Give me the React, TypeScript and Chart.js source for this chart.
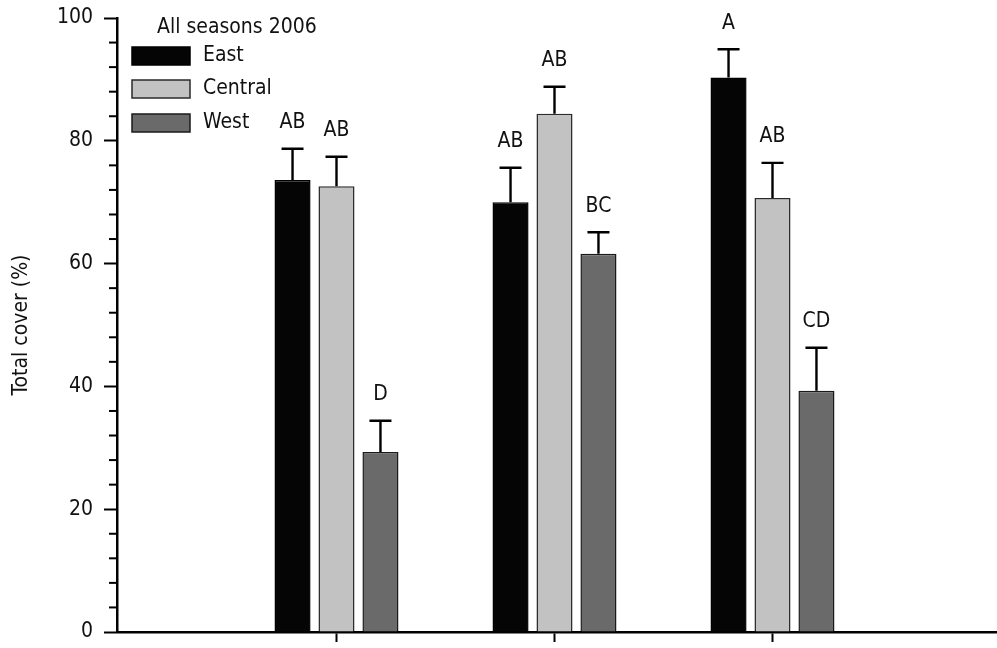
import React, { useEffect, useRef } from "react";
import { Chart, registerables } from "chart.js";

Chart.register(...registerables);

// Data
const categories = ["Site 1", "Site 2", "Site 3"];
const categoryPositions = [1, 2, 3];
const seriesNames = ["East", "Central", "West"];
const eastMeans = [73.6, 70.0, 90.3];
const centralMeans = [72.6, 84.4, 70.7];
const westMeans = [29.3, 61.6, 39.3];
const eastErrTop = [78.7, 75.6, 94.9];
const centralErrTop = [77.4, 88.8, 76.4];
const westErrTop = [34.4, 65.1, 46.3];
const eastLetters = ["AB", "AB", "A"];
const centralLetters = ["AB", "AB", "AB"];
const westLetters = ["D", "BC", "CD"];
const yTicks = [0, 20, 40, 60, 80, 100];
const legendTitle = "All seasons 2006";
const yTitle = "Total cover (%)";

const FONT = "'Liberation Sans Narrow', 'DejaVu Sans Condensed', Arial, sans-serif";
const colors = ["#050505", "#c2c2c2", "#6a6a6a"];
const borders = ["#000000", "#2a2a2a", "#1a1a1a"];

export default function App() {
  const ref = useRef<HTMLCanvasElement>(null);

  useEffect(() => {
    const canvas = ref.current;
    if (!canvas) return;
    const means = [eastMeans, centralMeans, westMeans];
    const errs = [eastErrTop, centralErrTop, westErrTop];
    const letters = [eastLetters, centralLetters, westLetters];

    const overlay = {
      id: "overlay",
      afterDatasetsDraw(chart: any) {
        const ctx = chart.ctx;
        const ys = chart.scales.y;
        ctx.save();
        for (let i = 0; i < 3; i++) {
          const meta = chart.getDatasetMeta(i);
          meta.data.forEach((el: any, j: number) => {
            const top = ys.getPixelForValue(errs[i][j]);
            ctx.strokeStyle = "#000";
            ctx.lineWidth = 2.4;
            ctx.beginPath();
            ctx.moveTo(el.x, el.y);
            ctx.lineTo(el.x, top);
            ctx.moveTo(el.x - 11, top);
            ctx.lineTo(el.x + 11, top);
            ctx.stroke();
            ctx.fillStyle = "#111";
            ctx.font = `21px ${FONT}`;
            ctx.textAlign = "center";
            ctx.textBaseline = "middle";
            ctx.fillText(letters[i][j], el.x, top - 26);
          });
        }
        ctx.restore();
      },
      afterDraw(chart: any) {
        const ctx = chart.ctx;
        const ys = chart.scales.y;
        const left = chart.chartArea.left;
        ctx.save();
        // minor ticks
        ctx.strokeStyle = "#000";
        ctx.lineWidth = 2;
        for (let v = 0; v <= 100; v += 4) {
          if (v % 20 === 0) continue;
          const y = ys.getPixelForValue(v);
          ctx.beginPath();
          ctx.moveTo(left - 8, y);
          ctx.lineTo(left, y);
          ctx.stroke();
        }
        // legend
        ctx.fillStyle = "#111";
        ctx.font = `21px ${FONT}`;
        ctx.textAlign = "left";
        ctx.textBaseline = "middle";
        ctx.fillText(legendTitle, 157, 28);
        const rows = [56, 89, 123];
        for (let i = 0; i < 3; i++) {
          const yc = rows[i];
          ctx.fillStyle = colors[i];
          ctx.fillRect(132, yc - 9, 58, 18);
          ctx.strokeStyle = borders[i];
          ctx.lineWidth = 1.5;
          ctx.strokeRect(132, yc - 9, 58, 18);
          ctx.fillStyle = "#111";
          ctx.fillText(seriesNames[i], 203, yc);
        }
        ctx.restore();
      },
    };

    const chart = new Chart(canvas, {
      type: "bar",
      data: {
        datasets: seriesNames.map((name, i) => ({
          label: name,
          data: categoryPositions.map((x, j) => ({ x, y: means[i][j] })),
          backgroundColor: colors[i],
          borderColor: borders[i],
          borderWidth: 1.5,
          barPercentage: 0.82,
          categoryPercentage: 0.605,
        })),
      },
      options: {
        animation: false,
        responsive: false,
        layout: { padding: { top: 18, right: 0, left: 0, bottom: 0 } },
        plugins: {
          legend: { display: false },
          tooltip: { enabled: false },
        },
        scales: {
          x: {
            type: "linear",
            min: -1.5 / 218,
            max: 878.5 / 218,
            offset: false,
            grid: {
              offset: false,
              drawOnChartArea: false,
              drawTicks: true,
              tickLength: 10,
              tickWidth: 2,
              tickColor: "#000",
            },
            border: { display: true, color: "#000", width: 2.5 },
            ticks: { display: false },
            afterBuildTicks: (scale: any) => {
              scale.ticks = categoryPositions.map((v) => ({ value: v }));
            },
            afterFit: (scale: any) => {
              scale.height = 16;
              scale.paddingLeft = 0;
              scale.paddingRight = 0;
            },
          },
          y: {
            min: 0,
            max: 100,
            grid: {
              drawOnChartArea: false,
              tickLength: 13,
              tickWidth: 2,
              tickColor: "#000",
            },
            border: { display: true, color: "#000", width: 2.5 },
            ticks: {
              color: "#111",
              padding: 11,
              font: { family: FONT, size: 21 },
            },
            afterBuildTicks: (scale: any) => {
              scale.ticks = yTicks.map((v) => ({ value: v }));
            },
            title: {
              display: true,
              text: yTitle,
              color: "#111",
              font: { family: FONT, size: 21 },
              padding: { top: 9, bottom: 0 },
            },
            afterFit: (scale: any) => {
              scale.width = 117;
              scale.paddingTop = 0;
              scale.paddingBottom = 0;
            },
          },
        },
      },
      plugins: [overlay],
    });
    return () => chart.destroy();
  }, []);

  return (
    <div style={{ position: "absolute", left: 0, top: 0, width: 997, height: 648, background: "#fff" }}>
      <canvas ref={ref} width={997} height={648} />
    </div>
  );
}
